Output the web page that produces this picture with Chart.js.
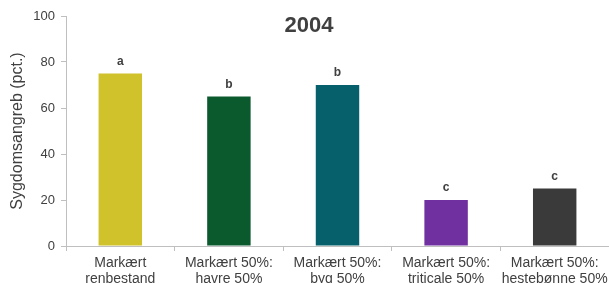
<!DOCTYPE html>
<html>
<head>
<meta charset="utf-8">
<script src="https://cdn.jsdelivr.net/npm/chart.js@4"></script>
<style>
  html, body { margin: 0; padding: 0; background: #fff; }
  #wrap { width: 609px; height: 283px; }
</style>
</head>
<body>
<div id="wrap"><canvas id="my-chart" width="609" height="283"></canvas></div>
<script>
let categories = [
  ['Markært', 'renbestand'],
  ['Markært 50%:', 'havre 50%'],
  ['Markært 50%:', 'byg 50%'],
  ['Markært 50%:', 'triticale 50%'],
  ['Markært 50%:', 'hestebønne 50%']
];
let angreb = [75, 65, 70, 20, 25];
let letters = ['a', 'b', 'b', 'c', 'c'];
let barcolors = ['#cfc22a', '#0b5a2e', '#05606b', '#7030a0', '#3a3a3a'];
let yticks = [0, 20, 40, 60, 80, 100];
let title = '2004';

let fontname = '"Liberation Sans", Arial, sans-serif';
let textcolor = '#404040';
let axiscolor = '#bfbfbf';

// draws the title inside the plot area and the letters over the bars
let labelsplugin = {
  id: 'labels',
  afterDatasetsDraw(chart) {
    let ctx = chart.ctx;
    ctx.save();
    ctx.fillStyle = textcolor;
    ctx.textAlign = 'center';
    ctx.textBaseline = 'middle';
    ctx.font = 'bold 22px ' + fontname;
    ctx.fillText(title, 309, 26);

    ctx.font = 'bold 12px ' + fontname;
    let bars = chart.getDatasetMeta(0).data;
    for (let i = 0; i < bars.length; i++) {
      ctx.fillText(letters[i], bars[i].x, bars[i].y - 12);
    }
    ctx.restore();
  }
};

let chartcontext = document.getElementById('my-chart').getContext('2d');

let chartConfig = {
  type: 'bar',
  data: {
    labels: categories,
    datasets: [{
      data: angreb,
      backgroundColor: barcolors,
      barPercentage: 0.5,
      categoryPercentage: 0.8
    }]
  },
  options: {
    responsive: false,
    animation: false,
    layout: { padding: { top: 16, right: 0, left: 0, bottom: 0 } },
    plugins: {
      legend: { display: false },
      tooltip: { enabled: false }
    },
    scales: {
      x: {
        grid: {
          offset: true,
          drawOnChartArea: false,
          drawTicks: true,
          tickLength: 5,
          color: axiscolor
        },
        border: { color: axiscolor, width: 1 },
        ticks: {
          color: textcolor,
          font: { family: fontname, size: 14, lineHeight: 1.15 },
          maxRotation: 0,
          autoSkip: false,
          padding: 4
        },
        afterFit(scale) {
          scale.height = 37;
          // let the last label run to the edge like in the original
          scale.paddingRight = 0;
          scale.paddingLeft = 0;
        }
      },
      y: {
        min: 0,
        max: 100,
        afterBuildTicks(scale) {
          scale.ticks = yticks.map(v => ({ value: v }));
        },
        grid: {
          drawOnChartArea: false,
          drawTicks: true,
          tickLength: 5,
          color: axiscolor
        },
        border: { color: axiscolor, width: 1 },
        ticks: {
          color: textcolor,
          font: { family: fontname, size: 13 },
          padding: 6
        },
        title: {
          display: true,
          text: 'Sygdomsangreb (pct.)',
          color: textcolor,
          font: { family: fontname, size: 16 },
          padding: { top: 8, bottom: 4 }
        },
        afterFit(scale) { scale.width = 66; }
      }
    }
  },
  plugins: [labelsplugin]
};

let mychart = new Chart(chartcontext, chartConfig);
</script>
</body>
</html>
